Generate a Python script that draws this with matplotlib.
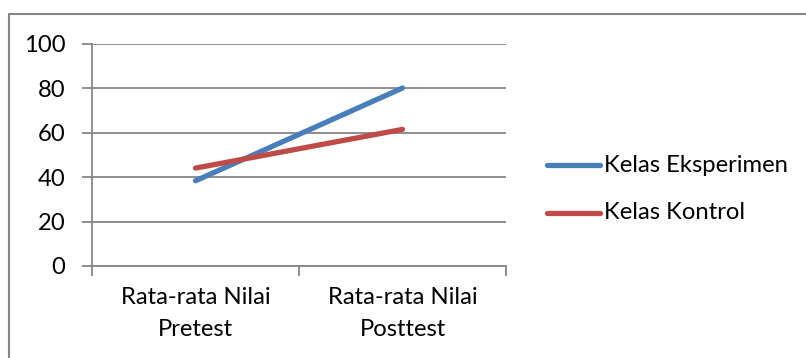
import matplotlib.pyplot as plt
from matplotlib.lines import Line2D

# Average scores per class
categories = ["Rata-rata Nilai\nPretest", "Rata-rata Nilai\nPosttest"]
eksperimen = [38.3, 80.0]
kontrol = [44.0, 61.4]
series_names = ["Kelas Eksperimen", "Kelas Kontrol"]
y_ticks = [0, 20, 40, 60, 80, 100]

plt.rcParams['font.family'] = ['Lato', 'DejaVu Sans']
grid_col = '#868686'
fs = 17.2

fig = plt.figure(figsize=(8.06, 3.58), dpi=100)
ax = fig.add_axes([92 / 806, 1 - 266 / 358, 414 / 806, 222.5 / 358])

x = range(len(categories))
ax.plot(x, eksperimen, color='#4a7ebb', lw=3.8, solid_capstyle='round')
ax.plot(x, kontrol, color='#be4b48', lw=3.8, solid_capstyle='round')

ax.set_xlim(-0.5, 1.5)
ax.set_ylim(0, 100)
ax.set_yticks(y_ticks)
ax.set_xticks(list(x))
ax.set_xticklabels(categories, fontsize=fs, linespacing=1.65)
ax.set_xticks([-0.5, 0.5, 1.5], minor=True)
ax.tick_params(axis='x', which='major', length=0, pad=15)
ax.tick_params(axis='x', which='minor', length=7, width=1.3, color=grid_col, direction='out')
ax.tick_params(axis='y', length=7, width=1.3, color=grid_col, labelsize=fs, pad=12)

ax.grid(axis='y', color=grid_col, lw=1.3)
ax.set_axisbelow(True)
for side in ['top', 'right']:
    ax.spines[side].set_visible(False)
for side in ['left', 'bottom']:
    ax.spines[side].set_color(grid_col)
    ax.spines[side].set_linewidth(1.3)

# legend drawn by hand at the right side
legend_cols = ['#4a7ebb', '#be4b48']
legend_y = [165, 212.5]
for name, col, yy in zip(series_names, legend_cols, legend_y):
    yf = 1 - yy / 358
    fig.add_artist(Line2D([547 / 806, 600 / 806], [yf, yf], color=col, lw=3.8,
                          solid_capstyle='round'))
    fig.text(604 / 806, yf, name, fontsize=fs, va='center', ha='left')

# outer chart border (top and left edges visible)
fig.add_artist(Line2D([8.5 / 806, 8.5 / 806, 1.0], [0, 1 - 14 / 358, 1 - 14 / 358],
                      color=grid_col, lw=1.5))

fig.savefig('out.png', dpi=100)
